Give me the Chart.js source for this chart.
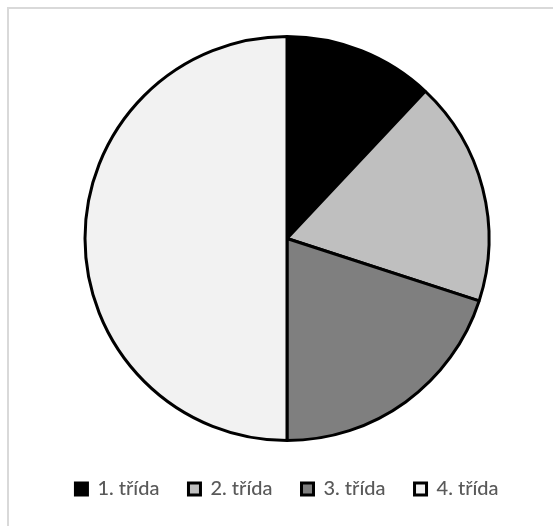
<!DOCTYPE html>
<html>
<head>
<meta charset="utf-8">
<script src="https://cdn.jsdelivr.net/npm/chart.js@4.4.0/dist/chart.umd.min.js"></script>
<style>
  html, body { margin: 0; padding: 0; background: #ffffff; }
  body { width: 553px; height: 526px; overflow: hidden; position: relative; }
  #frame { position: absolute; left: 7px; top: 7px; width: 560px; height: 540px;
           border-left: 2px solid #d9d9d9; border-top: 2px solid #d9d9d9; box-sizing: border-box; }
  #wrap { position: absolute; left: 0; top: 0; width: 574px; height: 526px; }
</style>
</head>
<body>
<div id="frame"></div>
<div id="wrap"><canvas id="c" width="574" height="526"></canvas></div>
<script>
const categories = ["1. třída", "2. třída", "3. třída", "4. třída"];
const values = [12, 18, 20, 50];
const sliceColors = ["#000000", "#bfbfbf", "#7f7f7f", "#f2f2f2"];

new Chart(document.getElementById("c"), {
  type: "pie",
  data: {
    labels: categories,
    datasets: [{
      data: values,
      backgroundColor: sliceColors,
      borderColor: "#000000",
      borderWidth: 3,
      borderAlign: "center",
      radius: 202
    }]
  },
  options: {
    responsive: false,
    animation: false,
    layout: { padding: { top: 27, bottom: 17, left: 0, right: 0 } },
    plugins: {
      tooltip: { enabled: false },
      legend: {
        position: "bottom",
        labels: {
          boxWidth: 12,
          boxHeight: 12,
          padding: 29,
          color: "#595959",
          font: { family: "Lato", size: 20, weight: "500" }
        }
      }
    }
  }
});
</script>
</body>
</html>
